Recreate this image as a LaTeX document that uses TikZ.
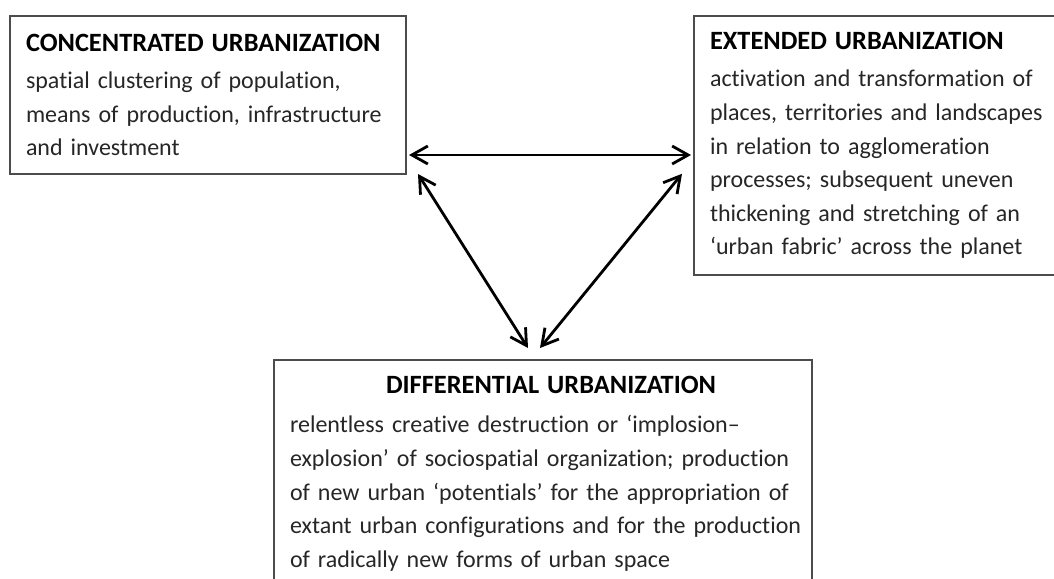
\documentclass[tikz,border=0pt]{standalone}
\usepackage{fontspec}
\setmainfont{Carlito}[Ligatures=NoCommon]
\usetikzlibrary{arrows.meta,calc}
\hyphenpenalty=10000
\newcommand{\boxhead}[1]{{\fontsize{13.2}{16.8}\selectfont\bfseries\color{black}#1}}

\begin{document}
\begin{tikzpicture}[x=0.5pt,y=-0.5pt,
    every node/.style={font=\fontsize{12}{16.8}\selectfont},
    box/.style={draw=black!70,line width=1pt,anchor=north west,align=left,inner xsep=8pt,inner ysep=8pt,text=black!85},
    arr/.style={{Straight Barb[length=8pt,width=9pt]}-{Straight Barb[length=8pt,width=9pt]},line width=1.4pt}]
      \useasboundingbox (0,0) rectangle (1054,578);
      \clip (0,0) rectangle (1054,578);
      \node[box,text width=182pt,minimum height=79pt] (conc) at (9,15) {\boxhead{CONCENTRATED URBANIZATION}\\[2pt]spatial clustering of population,\\means of production, infrastructure\\and investment};
      \node[box,text width=180pt,minimum height=128.5pt] (ext) at (693,15) {\boxhead{EXTENDED URBANIZATION}\\[2pt]activation and transformation of\\places, territories and landscapes\\in relation to agglomeration\\processes; subsequent uneven\\thickening and stretching of an\\‘urban fabric’ across the planet};
      \node[box,text width=253pt] (diff) at (273,359) {\hspace*{48pt}\boxhead{DIFFERENTIAL URBANIZATION}\\[3pt]relentless creative destruction or ‘implosion–\\explosion’ of sociospatial organization; production\\of new urban ‘potentials’ for the appropriation of\\\mbox{extant urban configurations and for the production}\\of radically new forms of urban space\\[4pt]};
      % Arrows
      \draw[arr] ($(conc.south east)+(2,-20)$) to ($(conc.south east -| ext.west)+(-2,-20)$);
      \draw[arr] ($(conc.south east)+(11,-1)$) to ($(diff.north west)+(255,-11)$);
      \draw[arr] ($(ext.south west)+(-11,-102)$) to ($(diff.north west)+(267,-11)$);
\end{tikzpicture}
\end{document}
